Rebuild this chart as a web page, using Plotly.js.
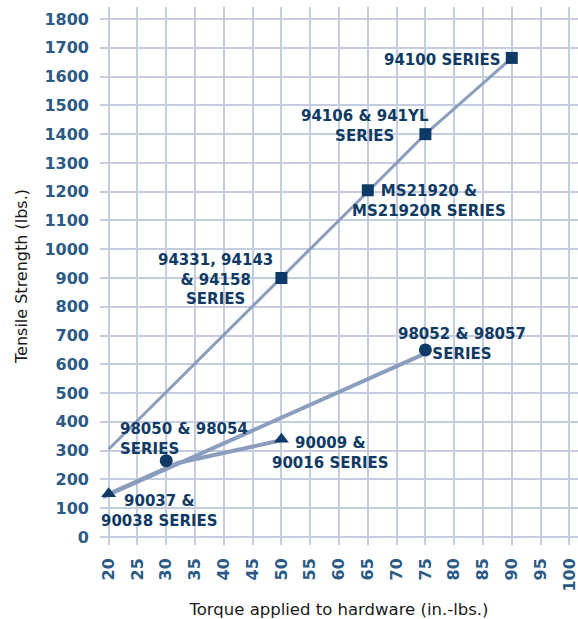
<!DOCTYPE html>
<html>
<head>
<meta charset="utf-8">
<script src="https://cdn.plot.ly/plotly-3.0.1.min.js"></script>
<style>
  html, body { margin: 0; padding: 0; background: #ffffff; }
  #chart { width: 578px; height: 619px; }
</style>
</head>
<body>
<div id="chart"></div>
<script>
// ---- Data ----
// Square series (steep line)
var squareLineX = [20, 50, 65, 75, 90];
var squareLineY = [305, 900, 1200, 1400, 1665];
var squareX = [50, 65, 75, 90];
var squareY = [900, 1205, 1400, 1665];
var squareLabels = ["94331, 94143<br>& 94158<br>SERIES", "MS21920 &<br>MS21920R SERIES", "94106 & 941YL<br>SERIES", "94100 SERIES"];

// Circle series
var circleLineX = [19, 75];
var circleLineY = [138, 638];
var circleX = [30, 75];
var circleY = [265, 650];
var circleLabels = ["98050 & 98054<br>SERIES", "98052 & 98057<br>SERIES"];

// Triangle series
var triangleLineX = [19, 32, 50];
var triangleLineY = [140, 257, 336];
var triangleX = [20, 50];
var triangleY = [150, 340];
var triangleLabels = ["90037 &<br>90038 SERIES", "90009 &<br>90016 SERIES"];

// Axis ticks
var xTicks = [20, 25, 30, 35, 40, 45, 50, 55, 60, 65, 70, 75, 80, 85, 90, 95, 100];
var yTicks = [0, 100, 200, 300, 400, 500, 600, 700, 800, 900, 1000, 1100, 1200, 1300, 1400, 1500, 1600, 1700, 1800];

var xTitle = "Torque applied to hardware (in.-lbs.)";
var yTitle = "Tensile Strength (lbs.)";

// ---- Styles ----
var lineColor = "#8b9dbd";
var markColor = "#0d3a66";
var labelColor = "#0f3a63";
var tickColor = "#2a5a85";
var fontFam = "'DejaVu Sans', sans-serif";

var traces = [
  {x: squareLineX, y: squareLineY, mode: "lines", line: {color: lineColor, width: 3}, hoverinfo: "skip"},
  {x: circleLineX, y: circleLineY, mode: "lines", line: {color: lineColor, width: 4}, hoverinfo: "skip"},
  {x: triangleLineX, y: triangleLineY, mode: "lines", line: {color: lineColor, width: 4}, hoverinfo: "skip"},
  {x: squareX, y: squareY, mode: "markers", marker: {symbol: "square", size: 12, color: markColor}},
  {x: circleX, y: circleY, mode: "markers", marker: {symbol: "circle", size: 13, color: markColor}},
  {x: triangleX, y: triangleY, mode: "markers", marker: {symbol: "triangle-up", size: 13, color: markColor}}
];

// Label placement (block centre in data coords, alignment)
var labelPlace = [
  {t: squareLabels[0], x: 38.6, y: 896, anchor: "center"},
  {t: squareLabels[1], x: 75.7, y: 1167, anchor: "center"},
  {t: squareLabels[2], x: 64.45, y: 1428, anchor: "center"},
  {t: squareLabels[3], x: 88.5, y: 1657, anchor: "right"},
  {t: circleLabels[0], x: 21.6, y: 340, anchor: "left"},
  {t: circleLabels[1], x: 81.4, y: 672, anchor: "center"},
  {t: triangleLabels[0], x: 28.75, y: 89, anchor: "center"},
  {t: triangleLabels[1], x: 58.6, y: 292, anchor: "center"}
];

var annotations = labelPlace.map(function (p) {
  return {
    x: p.x, y: p.y, xref: "x", yref: "y",
    text: p.t, showarrow: false,
    xanchor: p.anchor, yanchor: "middle",
    align: p.anchor === "right" ? "right" : (p.anchor === "left" ? "left" : "center"),
    font: {family: fontFam, size: 15, color: labelColor, weight: 700}
  };
});

var layout = {
  width: 578, height: 619,
  margin: {l: 100, r: 0, t: 7, b: 74},
  paper_bgcolor: "#ffffff",
  plot_bgcolor: "#ffffff",
  showlegend: false,
  xaxis: {
    range: [18.5, 101.5],
    tickvals: xTicks,
    ticktext: xTicks.map(String),
    tickangle: -90,
    ticklabeloverflow: "allow",
    showgrid: true, gridcolor: "#c4cde0", gridwidth: 2,
    zeroline: false, showline: false,
    ticks: "", ticklabelstandoff: 9,
    tickfont: {family: fontFam, size: 16, color: tickColor, weight: 700},
    title: {text: xTitle, font: {family: fontFam, size: 16.5, color: "#1a1a1a"}, standoff: 16}
  },
  yaxis: {
    range: [-28, 1842],
    tickvals: yTicks,
    ticktext: yTicks.map(String),
    showgrid: true, gridcolor: "#c4cde0", gridwidth: 2,
    zeroline: false, showline: false,
    ticks: "", ticklabelstandoff: 10,
    tickfont: {family: fontFam, size: 16, color: tickColor, weight: 700},
    title: {text: yTitle, font: {family: fontFam, size: 16, color: "#1a1a1a"}, standoff: 12}
  },
  annotations: annotations
};

Plotly.newPlot("chart", traces, layout, {displayModeBar: false, staticPlot: true});
</script>
</body>
</html>
